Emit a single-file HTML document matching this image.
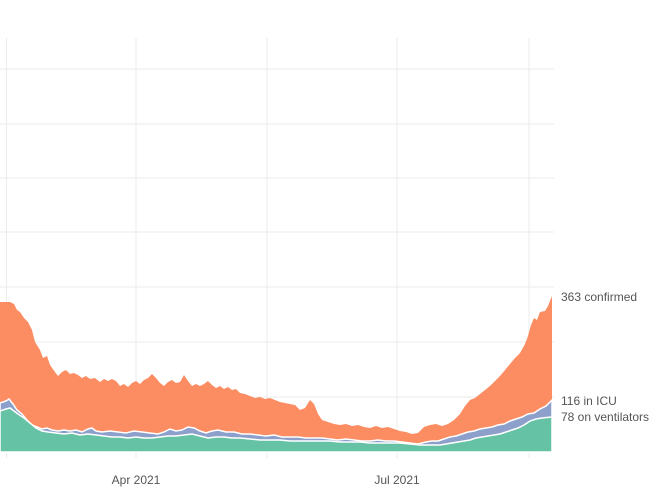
<!DOCTYPE html>
<html><head><meta charset="utf-8"><style>
html,body{margin:0;padding:0;background:#fff;}
svg{display:block;font-family:"Liberation Sans",Arial,sans-serif;}
</style></head><body>
<svg width="660" height="494" viewBox="0 0 660 494">
<g stroke="#ebebeb" stroke-width="1">
<line x1="0" y1="69" x2="554" y2="69"/><line x1="0" y1="124" x2="554" y2="124"/>
<line x1="0" y1="178" x2="554" y2="178"/><line x1="0" y1="232" x2="554" y2="232"/>
<line x1="0" y1="287" x2="554" y2="287"/><line x1="0" y1="342" x2="554" y2="342"/>
<line x1="0" y1="397" x2="554" y2="397"/>
<line x1="6.5" y1="38" x2="6.5" y2="458"/><line x1="136" y1="38" x2="136" y2="458"/>
<line x1="267" y1="38" x2="267" y2="458"/><line x1="397" y1="38" x2="397" y2="458"/>
<line x1="529" y1="38" x2="529" y2="458"/>
</g>
<path fill="#fc8d62" d="M0,302 L10,302 L14,304 L17,310 L20,312 L24,318 L28,322 L32,330 L35,342 L40,350 L43,358 L47,356 L50,365 L55,372 L58,376 L62,372 L66,370 L70,374 L74,373 L78,375 L82,378 L86,376 L90,379 L95,378 L100,382 L104,379 L108,381 L112,379 L116,381 L120,386 L124,384 L128,387 L132,383 L136,381 L140,384 L144,380 L148,378 L152,374 L156,378 L160,383 L164,386 L168,382 L172,380 L176,383 L180,382 L184,375 L188,381 L192,386 L196,384 L200,386 L204,384 L208,381 L212,385 L216,388 L220,386 L224,389 L228,387 L232,390 L236,389 L240,393 L245,394 L250,396 L255,398 L260,397 L265,399 L270,398 L275,400 L280,402 L285,403 L290,404 L295,405 L300,410 L305,408 L310,400 L314,404 L318,414 L322,420 L328,422 L334,424 L340,425 L346,424 L352,426 L358,425 L364,427 L370,428 L376,426 L382,428 L388,427 L394,429 L400,431 L406,432 L412,434 L418,433 L424,427 L430,425 L436,424 L442,426 L448,424 L454,420 L460,414 L465,406 L470,400 L475,398 L480,394 L485,390 L490,386 L495,381 L500,376 L505,370 L510,364 L515,358 L520,353 L525,344 L528,336 L531,325 L534,318 L537,320 L540,312 L545,311 L548,306 L552,296 L552,452 L0,452 Z"/>
<path fill="#8da0cb" stroke="#fff" stroke-width="1.5" d="M0,403 L6,401 L9,399 L13,404 L17,410 L22,414 L27,420 L32,425 L37,427 L42,429 L47,428 L52,430 L58,431 L64,430 L70,431 L76,430 L82,432 L88,429 L92,428 L96,431 L102,432 L110,431 L118,432 L126,433 L134,431 L142,432 L150,433 L158,434 L164,432 L170,429 L176,431 L182,430 L188,427 L194,428 L200,431 L206,433 L212,431 L218,430 L226,432 L234,432 L242,434 L250,434 L258,435 L266,436 L274,435 L282,437 L290,437 L298,437 L306,438 L314,438 L322,438 L330,439 L338,440 L346,439 L354,440 L362,441 L370,441 L378,440 L386,441 L394,441 L402,442 L410,443 L418,444 L426,442 L432,441 L438,441 L444,439 L450,437 L456,436 L462,434 L468,432 L474,431 L480,429 L486,428 L492,427 L498,425 L504,424 L510,421 L516,419 L522,417 L528,414 L534,413 L540,409 L546,406 L552,400 L552,452 L0,452 Z"/>
<path fill="#66c2a5" stroke="#fff" stroke-width="1.5" d="M0,411 L6,409 L10,408 L14,411 L18,414 L24,418 L30,423 L36,428 L42,431 L48,432 L56,433 L64,434 L72,433 L80,435 L88,434 L96,435 L104,436 L112,437 L120,437 L128,438 L136,437 L144,438 L152,438 L160,437 L168,436 L176,436 L184,435 L192,434 L200,436 L208,438 L216,437 L224,437 L232,438 L240,438 L250,439 L260,440 L270,440 L280,440 L290,441 L300,441 L310,441 L320,441 L330,441 L340,442 L350,442 L360,442 L370,443 L380,443 L390,443 L400,443 L410,444 L420,445 L430,445 L440,445 L446,444 L452,443 L458,442 L464,441 L470,440 L476,438 L482,437 L488,436 L494,435 L500,434 L506,432 L512,430 L518,428 L524,425 L530,421 L536,419 L542,418 L552,417 L552,452 L0,452 Z"/>
<g fill="#555" font-size="12">
<text x="561" y="301">363 confirmed</text>
<text x="561" y="405">116 in ICU</text>
<text x="561" y="421">78 on ventilators</text>
<text x="136" y="484" text-anchor="middle">Apr 2021</text>
<text x="397" y="484" text-anchor="middle">Jul 2021</text>
</g>
</svg>
</body></html>
